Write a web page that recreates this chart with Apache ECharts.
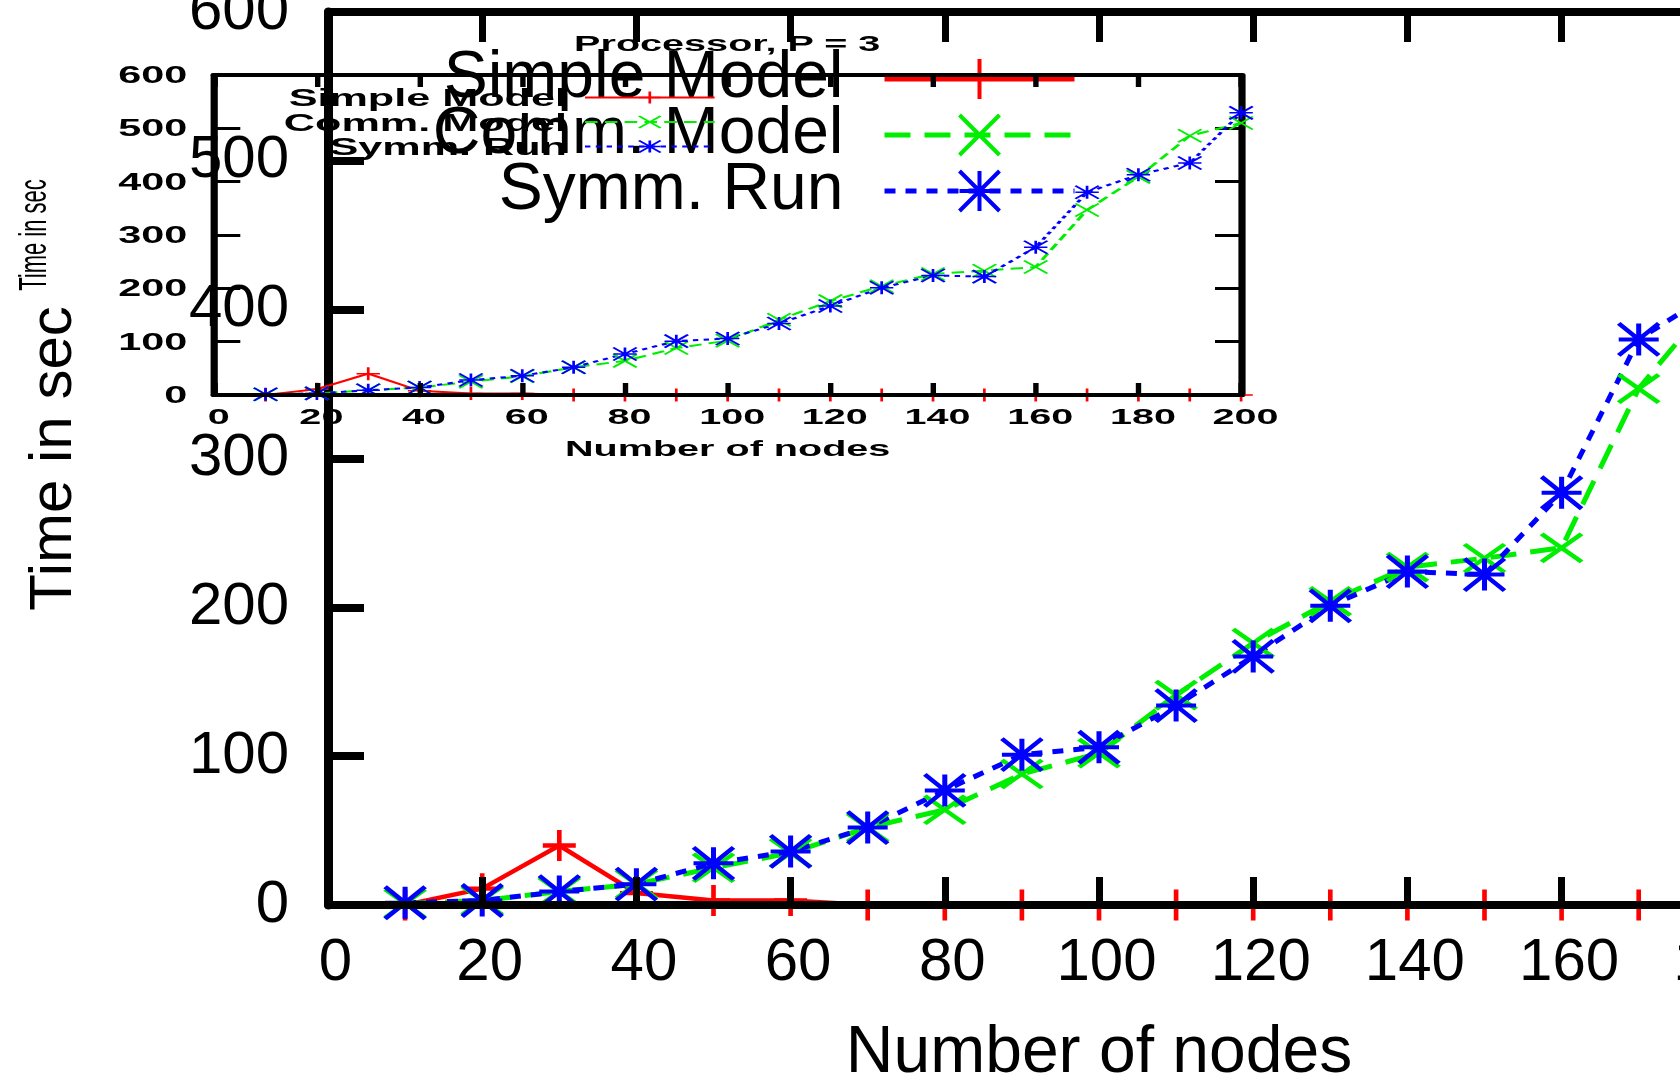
<!DOCTYPE html>
<html>
<head>
    <meta charset="utf-8">
    <title>Processor, P = 3</title>
    <style>
        html, body { margin: 0; padding: 0; background: #fff; overflow: hidden; }
        #main { position: absolute; left: 0; top: 0; width: 1680px; height: 1079px; }
        /* the inset is drawn narrow and then stretched, like the wide bold text of the original */
        #inset { position: absolute; left: 0; top: 0; width: 934px; height: 1079px; transform: scaleX(1.8); transform-origin: 0 0; }
    </style>
</head>
<body>
<div id="main"></div>
<div id="inset"></div>

<script src="https://cdn.jsdelivr.net/npm/echarts@6/dist/echarts.min.js"></script>
<script>
    // data (x = number of nodes, y = time in sec)
    var nodes = [10, 20, 30, 40, 50, 60, 70, 80, 90, 100, 110, 120, 130, 140, 150, 160, 170, 180, 190, 200];
    var simpleModel = [0, 11, 40, 8, 3, 3, 0, 0, 0, 0, 0, 0, 0, 0, 0, 0, 0, 0, 0, 0];
    var commModel = [1, 3, 9, 14, 25, 35, 52, 64, 88, 102, 141, 176, 204, 227, 233, 240, 347, 409, 486, 510];
    var symmRun = [1.5, 3, 9, 14, 28, 36, 52, 77, 101, 106, 134, 167, 201, 224, 222, 277, 380, 413, 435, 529];

    var seriesNames = ['Simple Model', 'Comm. Model', 'Symm. Run'];
    var seriesColors = ['#ff0000', '#00ee00', '#0000ff'];

    var plusPath = 'path://M0,5L10,5M5,0L5,10';
    var crossPath = 'path://M0,0L10,10M10,0L0,10';
    var starPath = 'path://M0,5L10,5M5,0L5,10M0,0L10,10M10,0L0,10';

    function pairs(ys) {
        var out = [];
        for (var i = 0; i < nodes.length; i++) {
            out.push([nodes[i], ys[i]]);
        }
        return out;
    }

    function makeSeries(name, ys, color, symbol, size, lineWidth, dash, border) {
        return {
            name: name,
            type: 'line',
            data: pairs(ys),
            symbol: symbol,
            symbolSize: size,
            showAllSymbol: true,
            itemStyle: { color: color, borderColor: color, borderWidth: border },
            lineStyle: { color: color, width: lineWidth, type: dash },
            emphasis: { disabled: true }
        };
    }

    var font = 'Liberation Sans, Arial, Helvetica, sans-serif';

    // ---------- big chart (runs past the right edge, as in the original) ----------
    var mainChart = echarts.init(document.getElementById('main'));
    mainChart.setOption({
        animation: false,
        backgroundColor: '#fff',
        grid: { left: 328, top: 12, width: 1542, height: 893, outerBoundsMode: 'none' },
        legend: {
            orient: 'vertical',
            align: 'right',
            right: 603,
            top: 46,
            padding: 0,
            itemWidth: 190,
            itemHeight: 50,
            itemGap: -10,
            textStyle: { fontSize: 66, color: '#000', fontFamily: font, lineHeight: 54, padding: [0, 36, 0, 0] },
            itemStyle: { borderWidth: 4 },
            lineStyle: { width: 5 },
            data: seriesNames
        },
        xAxis: [{
            type: 'value',
            position: 'bottom',
            min: 0,
            max: 200,
            interval: 20,
            z: 5,
            name: 'Number of nodes',
            nameLocation: 'middle',
            nameGap: 116,
            nameTextStyle: { fontSize: 66, color: '#000', fontFamily: font },
            axisLine: { show: true, onZero: false, lineStyle: { color: '#000', width: 8 } },
            axisTick: { show: true, inside: true, length: 28, lineStyle: { color: '#000', width: 7 } },
            axisLabel: { fontSize: 60, color: '#000', fontFamily: font, margin: 28, padding: [0, 0, 0, 15] },
            splitLine: { show: false }
        }, {
            type: 'value',
            position: 'top',
            min: 0,
            max: 200,
            interval: 20,
            axisLine: { show: true, onZero: false, lineStyle: { color: '#000', width: 8 } },
            axisTick: { show: true, inside: true, length: 30, lineStyle: { color: '#000', width: 7 } },
            axisLabel: { show: false },
            splitLine: { show: false }
        }],
        yAxis: [{
            type: 'value',
            min: 0,
            max: 600,
            interval: 100,
            name: 'Time in sec',
            nameLocation: 'middle',
            nameGap: 244,
            nameTextStyle: { fontSize: 60, color: '#000', fontFamily: font },
            axisLine: { show: true, onZero: false, lineStyle: { color: '#000', width: 9 } },
            axisTick: { show: true, inside: true, length: 36, lineStyle: { color: '#000', width: 8 } },
            axisLabel: { fontSize: 60, color: '#000', fontFamily: font, margin: 39 },
            splitLine: { show: false }
        }],
        series: [
            makeSeries(seriesNames[0], simpleModel, seriesColors[0], plusPath, [33, 31], 4.5, 'solid', 4.5),
            makeSeries(seriesNames[1], commModel, seriesColors[1], crossPath, [40, 28], 5, [26, 14], 4.5),
            makeSeries(seriesNames[2], symmRun, seriesColors[2], starPath, [40, 32], 5, [11, 10], 4.5)
        ]
    });

    // ---------- inset (coordinates before the 1.8x horizontal stretch) ----------
    var insetChart = echarts.init(document.getElementById('inset'), null, { renderer: 'svg' });
    var boldText = { fontSize: 22, fontWeight: 'bold', color: '#000', fontFamily: font };
    insetChart.setOption({
        animation: false,
        title: {
            text: 'Processor, P = 3',
            left: 404,
            top: 32,
            padding: 0,
            textAlign: 'center',
            textStyle: boldText
        },
        grid: { left: 119, top: 75, width: 570.5, height: 320, outerBoundsMode: 'none' },
        legend: {
            orient: 'vertical',
            align: 'right',
            right: 536,
            top: 85.5,
            padding: 0,
            itemWidth: 72,
            itemHeight: 15,
            itemGap: 0.5,
            textStyle: { fontSize: 24, fontWeight: 'bold', color: '#000', fontFamily: font, lineHeight: 21, padding: [0, 5, 0, 0] },
            itemStyle: { borderWidth: 1.5 },
            lineStyle: { width: 2 },
            data: seriesNames
        },
        xAxis: [{
            type: 'value',
            position: 'bottom',
            min: 0,
            max: 200,
            interval: 20,
            z: 5,
            name: 'Number of nodes',
            nameLocation: 'middle',
            nameGap: 42,
            nameTextStyle: boldText,
            axisLine: { show: true, onZero: false, lineStyle: { color: '#000', width: 4 } },
            axisTick: { show: true, inside: true, length: 12, lineStyle: { color: '#000', width: 3 } },
            axisLabel: { fontSize: 22, fontWeight: 'bold', color: '#000', fontFamily: font, margin: 10, padding: [0, 0, 0, 5] },
            splitLine: { show: false }
        }, {
            type: 'value',
            position: 'top',
            min: 0,
            max: 200,
            interval: 20,
            axisLine: { show: true, onZero: false, lineStyle: { color: '#000', width: 4 } },
            axisTick: { show: true, inside: true, length: 12, lineStyle: { color: '#000', width: 3 } },
            axisLabel: { show: false },
            splitLine: { show: false }
        }],
        yAxis: [{
            type: 'value',
            position: 'left',
            min: 0,
            max: 600,
            interval: 100,
            name: 'Time in sec',
            nameLocation: 'middle',
            nameGap: 90,
            nameTextStyle: { fontSize: 22, color: '#000', fontFamily: font },
            axisLine: { show: true, onZero: false, lineStyle: { color: '#000', width: 4 } },
            axisTick: { show: true, inside: true, length: 14.5, lineStyle: { color: '#000', width: 3 } },
            axisLabel: { fontSize: 23, fontWeight: 'bold', color: '#000', fontFamily: font, margin: 15 },
            splitLine: { show: false }
        }, {
            type: 'value',
            position: 'right',
            min: 0,
            max: 600,
            interval: 100,
            axisLine: { show: true, onZero: false, lineStyle: { color: '#000', width: 4 } },
            axisTick: { show: true, inside: true, length: 14.5, lineStyle: { color: '#000', width: 3 } },
            axisLabel: { show: false },
            splitLine: { show: false }
        }],
        series: [
            makeSeries(seriesNames[0], simpleModel, seriesColors[0], plusPath, 13, 2, 'solid', 1.5),
            makeSeries(seriesNames[1], commModel, seriesColors[1], crossPath, 13, 2, [7, 4], 1.5),
            makeSeries(seriesNames[2], symmRun, seriesColors[2], starPath, 13, 2, [3, 3], 1.5)
        ]
    });
</script>
</body>
</html>
